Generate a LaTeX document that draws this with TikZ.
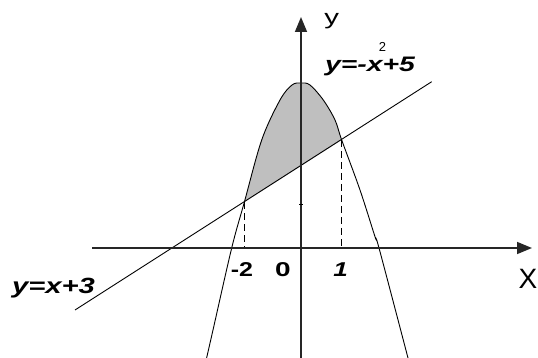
\documentclass[tikz,border=0pt]{standalone}
\usepackage{fontspec}
\setmainfont{Liberation Sans}
\usetikzlibrary{arrows.meta}
\tikzset{
  axis/.style={line width=1.6pt, black!85, -{Triangle[length=15pt,width=12pt]}},
  thin curve/.style={line width=0.9pt, black},
  guide/.style={line width=0.9pt, black, dash pattern=on 7pt off 4pt},
  lbl/.style={inner sep=0pt, anchor=base},
}
\begin{document}
\begin{tikzpicture}[x=1pt,y=-1pt]
\useasboundingbox (0,0) rectangle (538,358);
% key points
\coordinate (A) at (244.3,202.3);
\coordinate (B) at (341.7,140);
\coordinate (L0) at (75,310);
\coordinate (L1) at (431.7,81.7);
\coordinate (xs) at (92,248);
\coordinate (xe) at (532,248);
\coordinate (ys) at (301,358);
\coordinate (ye) at (301,17);
\coordinate (Ax) at (244.3,248);
\coordinate (Bx) at (341.7,248);
% shaded region
\fill[black!25] plot[smooth, tension=0.55] coordinates {(244.3,202.3) (261.7,140) (280,100) (292,85) (301,83) (310,85) (323.3,100) (335,120) (341.7,140)} -- cycle;
% parabola
\draw[thin curve] plot[smooth, tension=0.55] coordinates {(206.6,358) (213,330) (231.7,248) (244.3,202.3) (261.7,140) (280,100) (292,85) (301,83) (310,85) (323.3,100) (335,120) (341.7,140) (360,190) (375,236.7) (379,248) (408,358)};
% line y = x + 3
\draw[thin curve] (L0) -- (L1);
% guides
\draw[guide] (A) -- (Ax);
\draw[guide] (B) -- (Bx);
% axes
\draw[axis] (xs) -- (xe);
\draw[axis] (ys) -- (ye);
\draw[line width=0.8pt] (299,204) -- (303,204);
% labels
\node[lbl] (ly) at (331.7,25) {\fontsize{21}{21}\selectfont\scalebox{1.4}[1]{y}};
\node[lbl] (lX) at (528,288.3) {\fontsize{28}{28}\selectfont X};
\node[lbl] (lpar) at (370,71.7) {\fontsize{21}{21}\selectfont\scalebox{1.35}[1]{\bfseries\itshape y=-x+5}};
\node[lbl] (lsq) at (382.5,51.7) {\fontsize{13}{13}\selectfont 2};
\node[lbl] (lline) at (53.5,293.3) {\fontsize{22}{22}\selectfont\scalebox{1.33}[1]{\bfseries\itshape y=x+3}};
\node[lbl] (lm2) at (242,276) {\fontsize{20}{20}\selectfont\scalebox{1.25}[1]{\bfseries -2}};
\node[lbl] (l0) at (283,276) {\fontsize{20}{20}\selectfont\scalebox{1.4}[1]{\bfseries 0}};
\node[lbl] (l1) at (340.5,276) {\fontsize{20}{20}\selectfont\scalebox{1.3}[1]{\bfseries\itshape 1}};
\end{tikzpicture}
\end{document}
